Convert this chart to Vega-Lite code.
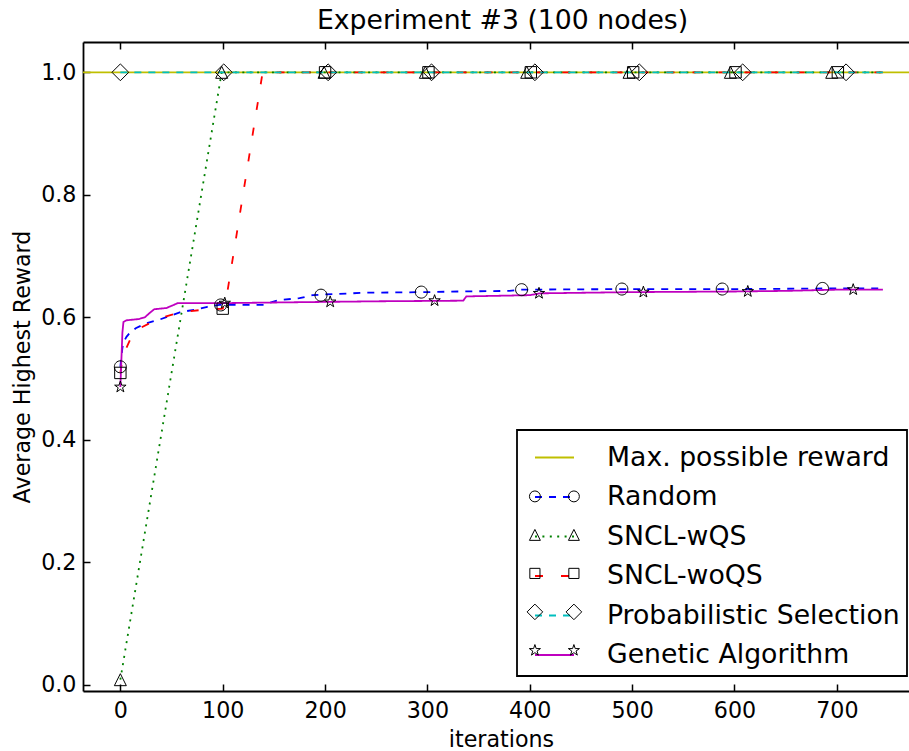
{
  "$schema": "https://vega.github.io/schema/vega-lite/v6.json",
  "width": 826,
  "height": 649,
  "autosize": {"type": "none"},
  "padding": {"left": 83, "top": 42, "right": 0, "bottom": 60},
  "background": "white",
  "title": {"text": "Experiment #3 (100 nodes)", "fontSize": 26.7, "font": "DejaVu Sans", "fontWeight": "normal", "anchor": "middle", "dx": 6.5, "baseline": "alphabetic", "offset": -14, "color": "black"},
  "config": {
    "font": "DejaVu Sans",
    "view": {"stroke": null},
    "axis": {"grid": false, "domainColor": "black", "domainWidth": 1.8, "tickColor": "black", "tickWidth": 1.5, "tickSize": -7, "labelColor": "black", "labelFont": "DejaVu Sans", "labelFontSize": 22.2, "titleFont": "DejaVu Sans", "titleFontSize": 22.2, "titleFontWeight": "normal", "titleColor": "black", "labelFlush": false, "labelOverlap": false}
  },
  "datasets": {
    "lines": [
      {"s": "Max. possible reward", "x": -40, "y": 1.0},
      {"s": "Max. possible reward", "x": 780, "y": 1.0},
      {"s": "Random", "x": 0, "y": 0.519},
      {"s": "Random", "x": 1, "y": 0.535},
      {"s": "Random", "x": 2, "y": 0.550},
      {"s": "Random", "x": 4, "y": 0.562},
      {"s": "Random", "x": 6, "y": 0.568},
      {"s": "Random", "x": 9, "y": 0.574},
      {"s": "Random", "x": 15, "y": 0.582},
      {"s": "Random", "x": 25, "y": 0.590},
      {"s": "Random", "x": 38, "y": 0.596},
      {"s": "Random", "x": 50, "y": 0.603},
      {"s": "Random", "x": 58, "y": 0.608},
      {"s": "Random", "x": 75, "y": 0.613},
      {"s": "Random", "x": 85, "y": 0.617},
      {"s": "Random", "x": 97, "y": 0.620},
      {"s": "Random", "x": 140, "y": 0.620},
      {"s": "Random", "x": 145, "y": 0.623},
      {"s": "Random", "x": 155, "y": 0.628},
      {"s": "Random", "x": 175, "y": 0.631},
      {"s": "Random", "x": 188, "y": 0.636},
      {"s": "Random", "x": 198, "y": 0.637},
      {"s": "Random", "x": 240, "y": 0.640},
      {"s": "Random", "x": 300, "y": 0.641},
      {"s": "Random", "x": 330, "y": 0.642},
      {"s": "Random", "x": 380, "y": 0.643},
      {"s": "Random", "x": 390, "y": 0.645},
      {"s": "Random", "x": 500, "y": 0.646},
      {"s": "Random", "x": 600, "y": 0.646},
      {"s": "Random", "x": 700, "y": 0.647},
      {"s": "Random", "x": 745, "y": 0.647},
      {"s": "SNCL-wQS", "x": 0, "y": 0.008},
      {"s": "SNCL-wQS", "x": 99, "y": 1.0},
      {"s": "SNCL-wQS", "x": 745, "y": 1.0},
      {"s": "SNCL-woQS", "x": 0, "y": 0.509},
      {"s": "SNCL-woQS", "x": 1, "y": 0.520},
      {"s": "SNCL-woQS", "x": 3, "y": 0.535},
      {"s": "SNCL-woQS", "x": 6, "y": 0.550},
      {"s": "SNCL-woQS", "x": 10, "y": 0.565},
      {"s": "SNCL-woQS", "x": 19, "y": 0.582},
      {"s": "SNCL-woQS", "x": 38, "y": 0.598},
      {"s": "SNCL-woQS", "x": 58, "y": 0.608},
      {"s": "SNCL-woQS", "x": 80, "y": 0.612},
      {"s": "SNCL-woQS", "x": 100, "y": 0.614},
      {"s": "SNCL-woQS", "x": 103, "y": 0.625},
      {"s": "SNCL-woQS", "x": 139, "y": 1.0},
      {"s": "SNCL-woQS", "x": 745, "y": 1.0},
      {"s": "Probabilistic Selection", "x": 0, "y": 1.0},
      {"s": "Probabilistic Selection", "x": 745, "y": 1.0},
      {"s": "Genetic Algorithm", "x": 0, "y": 0.486},
      {"s": "Genetic Algorithm", "x": 1, "y": 0.530},
      {"s": "Genetic Algorithm", "x": 2, "y": 0.575},
      {"s": "Genetic Algorithm", "x": 3, "y": 0.592},
      {"s": "Genetic Algorithm", "x": 6, "y": 0.595},
      {"s": "Genetic Algorithm", "x": 18, "y": 0.597},
      {"s": "Genetic Algorithm", "x": 24, "y": 0.600},
      {"s": "Genetic Algorithm", "x": 28, "y": 0.606},
      {"s": "Genetic Algorithm", "x": 33, "y": 0.613},
      {"s": "Genetic Algorithm", "x": 45, "y": 0.615},
      {"s": "Genetic Algorithm", "x": 52, "y": 0.620},
      {"s": "Genetic Algorithm", "x": 56, "y": 0.623},
      {"s": "Genetic Algorithm", "x": 100, "y": 0.623},
      {"s": "Genetic Algorithm", "x": 150, "y": 0.624},
      {"s": "Genetic Algorithm", "x": 200, "y": 0.625},
      {"s": "Genetic Algorithm", "x": 250, "y": 0.626},
      {"s": "Genetic Algorithm", "x": 335, "y": 0.627},
      {"s": "Genetic Algorithm", "x": 338, "y": 0.634},
      {"s": "Genetic Algorithm", "x": 400, "y": 0.636},
      {"s": "Genetic Algorithm", "x": 410, "y": 0.639},
      {"s": "Genetic Algorithm", "x": 500, "y": 0.641},
      {"s": "Genetic Algorithm", "x": 600, "y": 0.642},
      {"s": "Genetic Algorithm", "x": 650, "y": 0.643},
      {"s": "Genetic Algorithm", "x": 700, "y": 0.645},
      {"s": "Genetic Algorithm", "x": 745, "y": 0.645}
    ],
    "markers": [
      {"s": "Random", "x": 0, "y": 0.519},
      {"s": "Random", "x": 98, "y": 0.620},
      {"s": "Random", "x": 196, "y": 0.636},
      {"s": "Random", "x": 294, "y": 0.641},
      {"s": "Random", "x": 392, "y": 0.645},
      {"s": "Random", "x": 490, "y": 0.646},
      {"s": "Random", "x": 588, "y": 0.646},
      {"s": "Random", "x": 686, "y": 0.647},
      {"s": "SNCL-wQS", "x": 0, "y": 0.008},
      {"s": "SNCL-wQS", "x": 99, "y": 1.0},
      {"s": "SNCL-wQS", "x": 199, "y": 1.0},
      {"s": "SNCL-wQS", "x": 298, "y": 1.0},
      {"s": "SNCL-wQS", "x": 397, "y": 1.0},
      {"s": "SNCL-wQS", "x": 497, "y": 1.0},
      {"s": "SNCL-wQS", "x": 596, "y": 1.0},
      {"s": "SNCL-wQS", "x": 695, "y": 1.0},
      {"s": "SNCL-woQS", "x": 0, "y": 0.509},
      {"s": "SNCL-woQS", "x": 100, "y": 0.614},
      {"s": "SNCL-woQS", "x": 200, "y": 1.0},
      {"s": "SNCL-woQS", "x": 301, "y": 1.0},
      {"s": "SNCL-woQS", "x": 401, "y": 1.0},
      {"s": "SNCL-woQS", "x": 501, "y": 1.0},
      {"s": "SNCL-woQS", "x": 601, "y": 1.0},
      {"s": "SNCL-woQS", "x": 701, "y": 1.0},
      {"s": "Probabilistic Selection", "x": 0, "y": 1.0},
      {"s": "Probabilistic Selection", "x": 101, "y": 1.0},
      {"s": "Probabilistic Selection", "x": 203, "y": 1.0},
      {"s": "Probabilistic Selection", "x": 304, "y": 1.0},
      {"s": "Probabilistic Selection", "x": 405, "y": 1.0},
      {"s": "Probabilistic Selection", "x": 507, "y": 1.0},
      {"s": "Probabilistic Selection", "x": 608, "y": 1.0},
      {"s": "Probabilistic Selection", "x": 709, "y": 1.0},
      {"s": "Genetic Algorithm", "x": 0, "y": 0.486},
      {"s": "Genetic Algorithm", "x": 102, "y": 0.623},
      {"s": "Genetic Algorithm", "x": 205, "y": 0.625},
      {"s": "Genetic Algorithm", "x": 307, "y": 0.627},
      {"s": "Genetic Algorithm", "x": 409, "y": 0.639},
      {"s": "Genetic Algorithm", "x": 511, "y": 0.641},
      {"s": "Genetic Algorithm", "x": 613, "y": 0.642},
      {"s": "Genetic Algorithm", "x": 716, "y": 0.645}
    ]
  },
  "layer": [
    {
      "data": {"name": "lines"},
      "mark": {"type": "line", "clip": true, "strokeWidth": 1.8},
      "encoding": {
        "x": {"field": "x", "type": "quantitative", "scale": {"domain": [-36.5, 770.5], "nice": false, "zero": false},
          "axis": {"orient": "bottom", "values": [0, 100, 200, 300, 400, 500, 600, 700], "labelPadding": 15.2, "title": "iterations", "titleX": 418, "titleY": 55, "titleBaseline": "alphabetic"}},
        "y": {"field": "y", "type": "quantitative", "scale": {"domain": [-0.0105, 1.0495], "nice": false, "zero": false},
          "axis": {"values": [0, 0.2, 0.4, 0.6, 0.8, 1.0], "format": ".1f", "labelPadding": 14, "title": "Average Highest Reward", "titleX": -54, "titleY": 324.5, "titleBaseline": "alphabetic", "titleAngle": -90}},
        "color": {"field": "s", "type": "nominal",
          "scale": {"domain": ["Max. possible reward", "Random", "SNCL-wQS", "SNCL-woQS", "Probabilistic Selection", "Genetic Algorithm"],
                    "range": ["#bfbf00", "#0000ff", "#008000", "#ff0000", "#00bfbf", "#bf00bf"]},
          "legend": {"title": null, "orient": "none", "legendX": 434, "legendY": 388, "padding": 7, "symbolType": "stroke", "symbolSize": 1521, "symbolStrokeWidth": 1.8, "symbolOffset": 10, "labelOffset": 32, "labelFontSize": 26.7, "labelFont": "DejaVu Sans", "labelColor": "black", "labelLimit": 500, "rowPadding": 4.5, "strokeColor": "black", "cornerRadius": 0,
            "encode": {"legend": {"update": {"strokeWidth": {"value": 1.8}}}}}},
        "strokeDash": {"field": "s", "type": "nominal",
          "scale": {"domain": ["Max. possible reward", "Random", "SNCL-wQS", "SNCL-woQS", "Probabilistic Selection", "Genetic Algorithm"],
                    "range": [[1, 0], [7, 7], [2, 5.4], [8, 18], [7, 7], [1, 0]]},
          "legend": {"title": null, "orient": "none", "legendX": 434, "legendY": 388, "padding": 7, "symbolType": "stroke", "symbolSize": 1521, "symbolStrokeWidth": 1.8, "symbolOffset": 10, "labelOffset": 32, "labelFontSize": 26.7, "labelFont": "DejaVu Sans", "labelColor": "black", "labelLimit": 500, "rowPadding": 4.5, "strokeColor": "black", "cornerRadius": 0,
            "encode": {"legend": {"update": {"strokeWidth": {"value": 1.8}}}}}}
      }
    },
    {
      "data": {"name": "markers"},
      "mark": {"type": "point", "filled": false, "stroke": "black", "strokeWidth": 1, "size": 144, "opacity": 1},
      "encoding": {
        "x": {"field": "x", "type": "quantitative", "scale": {"domain": [-36.5, 770.5], "nice": false, "zero": false},
          "axis": {"orient": "top", "labels": false, "title": null, "minExtent": 0, "maxExtent": 0, "values": [0, 100, 200, 300, 400, 500, 600, 700]}},
        "y": {"field": "y", "type": "quantitative", "scale": {"domain": [-0.0105, 1.0495], "nice": false, "zero": false}, "title": "Average Highest Reward"},
        "shape": {"field": "s", "type": "nominal",
          "scale": {"domain": ["Random", "SNCL-wQS", "SNCL-woQS", "Probabilistic Selection", "Genetic Algorithm"],
                    "range": [
                      "M1,0A1,1,0,1,1,-1,0A1,1,0,1,1,1,0Z",
                      "M0,-1L1,1L-1,1Z",
                      "M-0.95,-0.95L0.95,-0.95L0.95,0.95L-0.95,0.95Z",
                      "M-1.4,0L0,-1.4L1.4,0L0,1.4Z",
                      "M0,-1L0.2245,-0.309L0.951,-0.309L0.363,0.118L0.588,0.809L0,0.382L-0.588,0.809L-0.363,0.118L-0.951,-0.309L-0.2245,-0.309Z"
                    ]},
          "legend": null}
      }
    },
    {
      "data": {"name": "markers"},
      "mark": {"type": "point", "filled": false, "stroke": "black", "strokeWidth": 1, "opacity": 0},
      "encoding": {
        "x": {"field": "x", "type": "quantitative", "scale": {"domain": [-36.5, 770.5], "nice": false, "zero": false}, "axis": null},
        "y": {"field": "y", "type": "quantitative", "scale": {"domain": [-0.0105, 1.0495], "nice": false, "zero": false}, "title": "Average Highest Reward"},
        "shape": {"field": "s", "type": "nominal",
          "scale": {"domain": ["Random", "SNCL-wQS", "SNCL-woQS", "Probabilistic Selection", "Genetic Algorithm"],
                    "range": [
                      "M-0.72,0A0.28,0.28,0,1,1,-1.28,0A0.28,0.28,0,1,1,-0.72,0ZM1.28,0A0.28,0.28,0,1,1,0.72,0A0.28,0.28,0,1,1,1.28,0Z",
                      "M-1,-0.28L-0.72,0.28L-1.28,0.28ZM1,-0.28L1.28,0.28L0.72,0.28Z",
                      "M-1.26,-0.26L-0.74,-0.26L-0.74,0.26L-1.26,0.26ZM0.74,-0.26L1.26,-0.26L1.26,0.26L0.74,0.26Z",
                      "M-1.4,0L-1,-0.4L-0.6,0L-1,0.4ZM0.6,0L1,-0.4L1.4,0L1,0.4Z",
                      "M-1,-0.3L-0.9326,-0.0927L-0.7147,-0.0927L-0.8911,0.0354L-0.8236,0.2427L-1,0.1146L-1.1764,0.2427L-1.1089,0.0354L-1.2853,-0.0927L-1.0674,-0.0927ZM1,-0.3L1.0674,-0.0927L1.2853,-0.0927L1.1089,0.0354L1.1764,0.2427L1,0.1146L0.8236,0.2427L0.8911,0.0354L0.7147,-0.0927L0.9326,-0.0927Z"
                    ]},
          "legend": {"title": null, "orient": "none", "legendX": 434, "legendY": 427.4, "padding": 7, "symbolSize": 1521, "symbolStrokeWidth": 1, "symbolStrokeColor": "black", "symbolFillColor": "transparent", "symbolOpacity": 1, "symbolOffset": 10.4, "labelOffset": 32, "labelFontSize": 26.7, "labelFont": "DejaVu Sans", "labelExpr": "' '", "labelLimit": 500, "rowPadding": 4.5}}
      }
    }
  ],
  "resolve": {"axis": {"x": "independent"}, "scale": {"shape": "independent"}, "legend": {"shape": "independent"}}
}
